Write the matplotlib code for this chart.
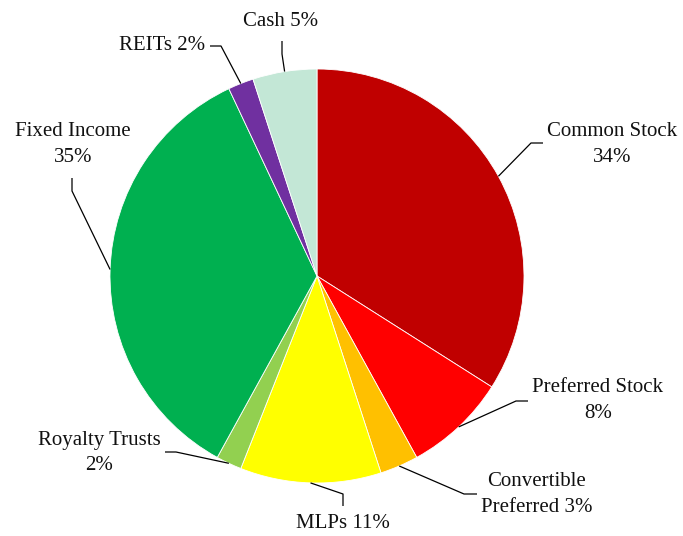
import matplotlib.pyplot as plt
import numpy as np

categories = ["Common Stock", "Preferred Stock", "Convertible Preferred", "MLPs",
              "Royalty Trusts", "Fixed Income", "REITs", "Cash"]
values = [34, 8, 3, 11, 2, 35, 2, 5]
label_texts = ["Common Stock\n34%", "Preferred Stock\n8%", "Convertible\nPreferred 3%",
               "MLPs 11%", "Royalty Trusts\n2%", "Fixed Income\n35%", "REITs 2%", "Cash 5%"]
colors = ["#C00000", "#FF0000", "#FFC000", "#FFFF00", "#92D050", "#00B050",
          "#7030A0", "#C3E7D6"]

W, H = 683, 536
plt.rcParams['font.family'] = ['Liberation Serif', 'DejaVu Serif']

fig = plt.figure(figsize=(W / 100, H / 100), dpi=100)
ax = fig.add_axes([0, 0, 1, 1])

cx, cy, R = 317, 276, 207
wedges, _ = ax.pie(values, colors=colors, startangle=90, counterclock=False,
                   center=(cx, H - cy), radius=R,
                   wedgeprops=dict(edgecolor='white', linewidth=0.6))
ax.set_xlim(0, W)
ax.set_ylim(0, H)
ax.set_aspect('equal')
ax.axis('off')

# layout (image pixel coords): leader elbow points and text anchors
leaders = [
    [(531, 143), (543, 143)],
    [(516, 401), (528, 401)],
    [(464, 494), (477, 494)],
    [(343, 494), (343, 506)],
    [(176, 452), (165, 452)],
    [(72, 191), (72, 178)],
    [(221, 46), (210, 46)],
    [(282, 54), (282, 41)],
]
text_pos = [
    (612, 144, 'center'),
    (598, 400, 'center'),
    (537, 494, 'center'),
    (343, 524, 'center'),
    (99, 453, 'center'),
    (73, 145, 'center'),
    (162, 46, 'center'),
    (281, 21, 'center'),
]

for w, pts, (tx, ty, ha), txt in zip(wedges, leaders, text_pos, label_texts):
    mid = np.deg2rad((w.theta1 + w.theta2) / 2)
    sx = cx + R * np.cos(mid)
    sy = (H - cy) + R * np.sin(mid)
    xs = [sx] + [p[0] for p in pts]
    ys = [sy] + [H - p[1] for p in pts]
    ax.plot(xs, ys, color='black', lw=0.9, solid_capstyle='butt')
    ax.text(tx, H - ty, txt, ha=ha, va='center', fontsize=15,
            linespacing=1.5, color='#111111')

fig.savefig('out.png', dpi=100)
